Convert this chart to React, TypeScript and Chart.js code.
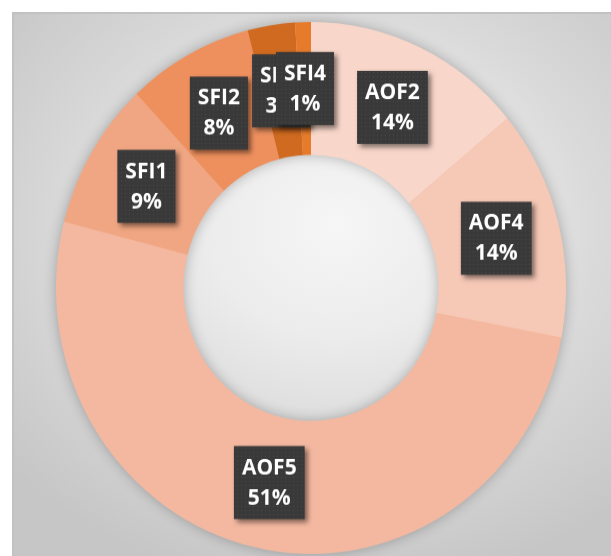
import React, { useEffect, useRef } from 'react';
import { Chart, registerables } from 'chart.js';

Chart.register(...registerables);

const categories = ['AOF2', 'AOF4', 'AOF5', 'SFI1', 'SFI2', 'SFI3', 'SFI4'];
const shares = [14, 14, 51, 9, 8, 3, 1];
const sliceColors = ['#f8d6c9', '#f6c8b6', '#f4b8a0', '#f0a682', '#ee905e', '#cf6a20', '#e67b2c'];

export default function App() {
  const ref = useRef<HTMLCanvasElement>(null);

  useEffect(() => {
    const canvas = ref.current!;
    const total = shares.reduce((a, b) => a + b, 0);

    const pat = document.createElement('canvas');
    pat.width = 4;
    pat.height = 4;
    const pc = pat.getContext('2d')!;
    pc.fillStyle = '#393939';
    pc.fillRect(0, 0, 4, 4);
    pc.fillStyle = '#4a4a4a';
    pc.fillRect(1, 1, 1, 1);

    const ringShadow = {
      id: 'ringShadow',
      beforeDatasetsDraw(chart: any) {
        const arc = chart.getDatasetMeta(0).data[0] as any;
        if (!arc) return;
        const { x, y, outerRadius, innerRadius } = arc.getProps(['x', 'y', 'outerRadius', 'innerRadius'], true);
        const ctx = chart.ctx;
        ctx.save();
        ctx.shadowColor = 'rgba(0,0,0,0.30)';
        ctx.shadowBlur = 14;
        ctx.beginPath();
        ctx.arc(x, y, outerRadius - 1, 0, Math.PI * 2);
        ctx.arc(x, y, innerRadius + 1, 0, Math.PI * 2, true);
        ctx.fillStyle = '#f4b8a0';
        ctx.fill();
        ctx.restore();
      },
    };

    const boxLabels = {
      id: 'boxLabels',
      afterDatasetsDraw(chart: any) {
        const ctx = chart.ctx as CanvasRenderingContext2D;
        const meta = chart.getDatasetMeta(0);
        const pattern = ctx.createPattern(pat, 'repeat')!;
        ctx.save();
        ctx.font = 'bold 21px "Open Sans"';
        meta.data.forEach((el: any, i: number) => {
          const p = el.tooltipPosition(false);
          const l1 = categories[i];
          const l2 = Math.round((shares[i] / total) * 100) + '%';
          const w = Math.max(ctx.measureText(l1).width, ctx.measureText(l2).width) + 16;
          const h = 70;
          ctx.save();
          ctx.shadowColor = 'rgba(0,0,0,0.5)';
          ctx.shadowBlur = 5;
          ctx.shadowOffsetX = 3;
          ctx.shadowOffsetY = 3;
          ctx.fillStyle = pattern;
          ctx.fillRect(p.x - w / 2, p.y - h / 2, w, h);
          ctx.restore();
          ctx.fillStyle = '#ffffff';
          ctx.textAlign = 'center';
          ctx.textBaseline = 'middle';
          ctx.fillText(l1, p.x, p.y - 14);
          ctx.fillText(l2, p.x, p.y + 15);
        });
        ctx.restore();
      },
    };

    const chart = new Chart(canvas, {
      type: 'doughnut',
      data: {
        labels: categories,
        datasets: [
          {
            data: shares,
            backgroundColor: sliceColors,
            borderWidth: 0,
          },
        ],
      },
      options: {
        responsive: false,
        animation: false,
        cutout: '50%',
        events: [],
        layout: { padding: { left: 56, right: 45, top: 21, bottom: 21 } },
        plugins: {
          legend: { display: false },
          tooltip: { enabled: false },
        },
      },
      plugins: [ringShadow, boxLabels],
    });
    return () => chart.destroy();
  }, []);

  return (
    <div
      style={{
        position: 'absolute',
        left: 0,
        top: 0,
        width: 611,
        height: 556,
        overflow: 'hidden',
        background: '#ffffff',
      }}
    >
      <div
        style={{
          position: 'absolute',
          left: 12,
          top: 12,
          width: 620,
          height: 560,
          borderLeft: '2px solid #c2c2c2',
          borderTop: '2px solid #c2c2c2',
          background:
            'radial-gradient(ellipse 70% 65% at 52% 38%, #f6f6f6 0%, #ececec 30%, #dadada 60%, #c6c6c6 100%)',
        }}
      />
      <div
        style={{
          position: 'absolute',
          left: 0,
          top: 0,
          transform: 'scaleY(1.043)',
          transformOrigin: '0 0',
        }}
      >
        <canvas ref={ref} width={611} height={552} style={{ display: 'block' }} />
      </div>
    </div>
  );
}
